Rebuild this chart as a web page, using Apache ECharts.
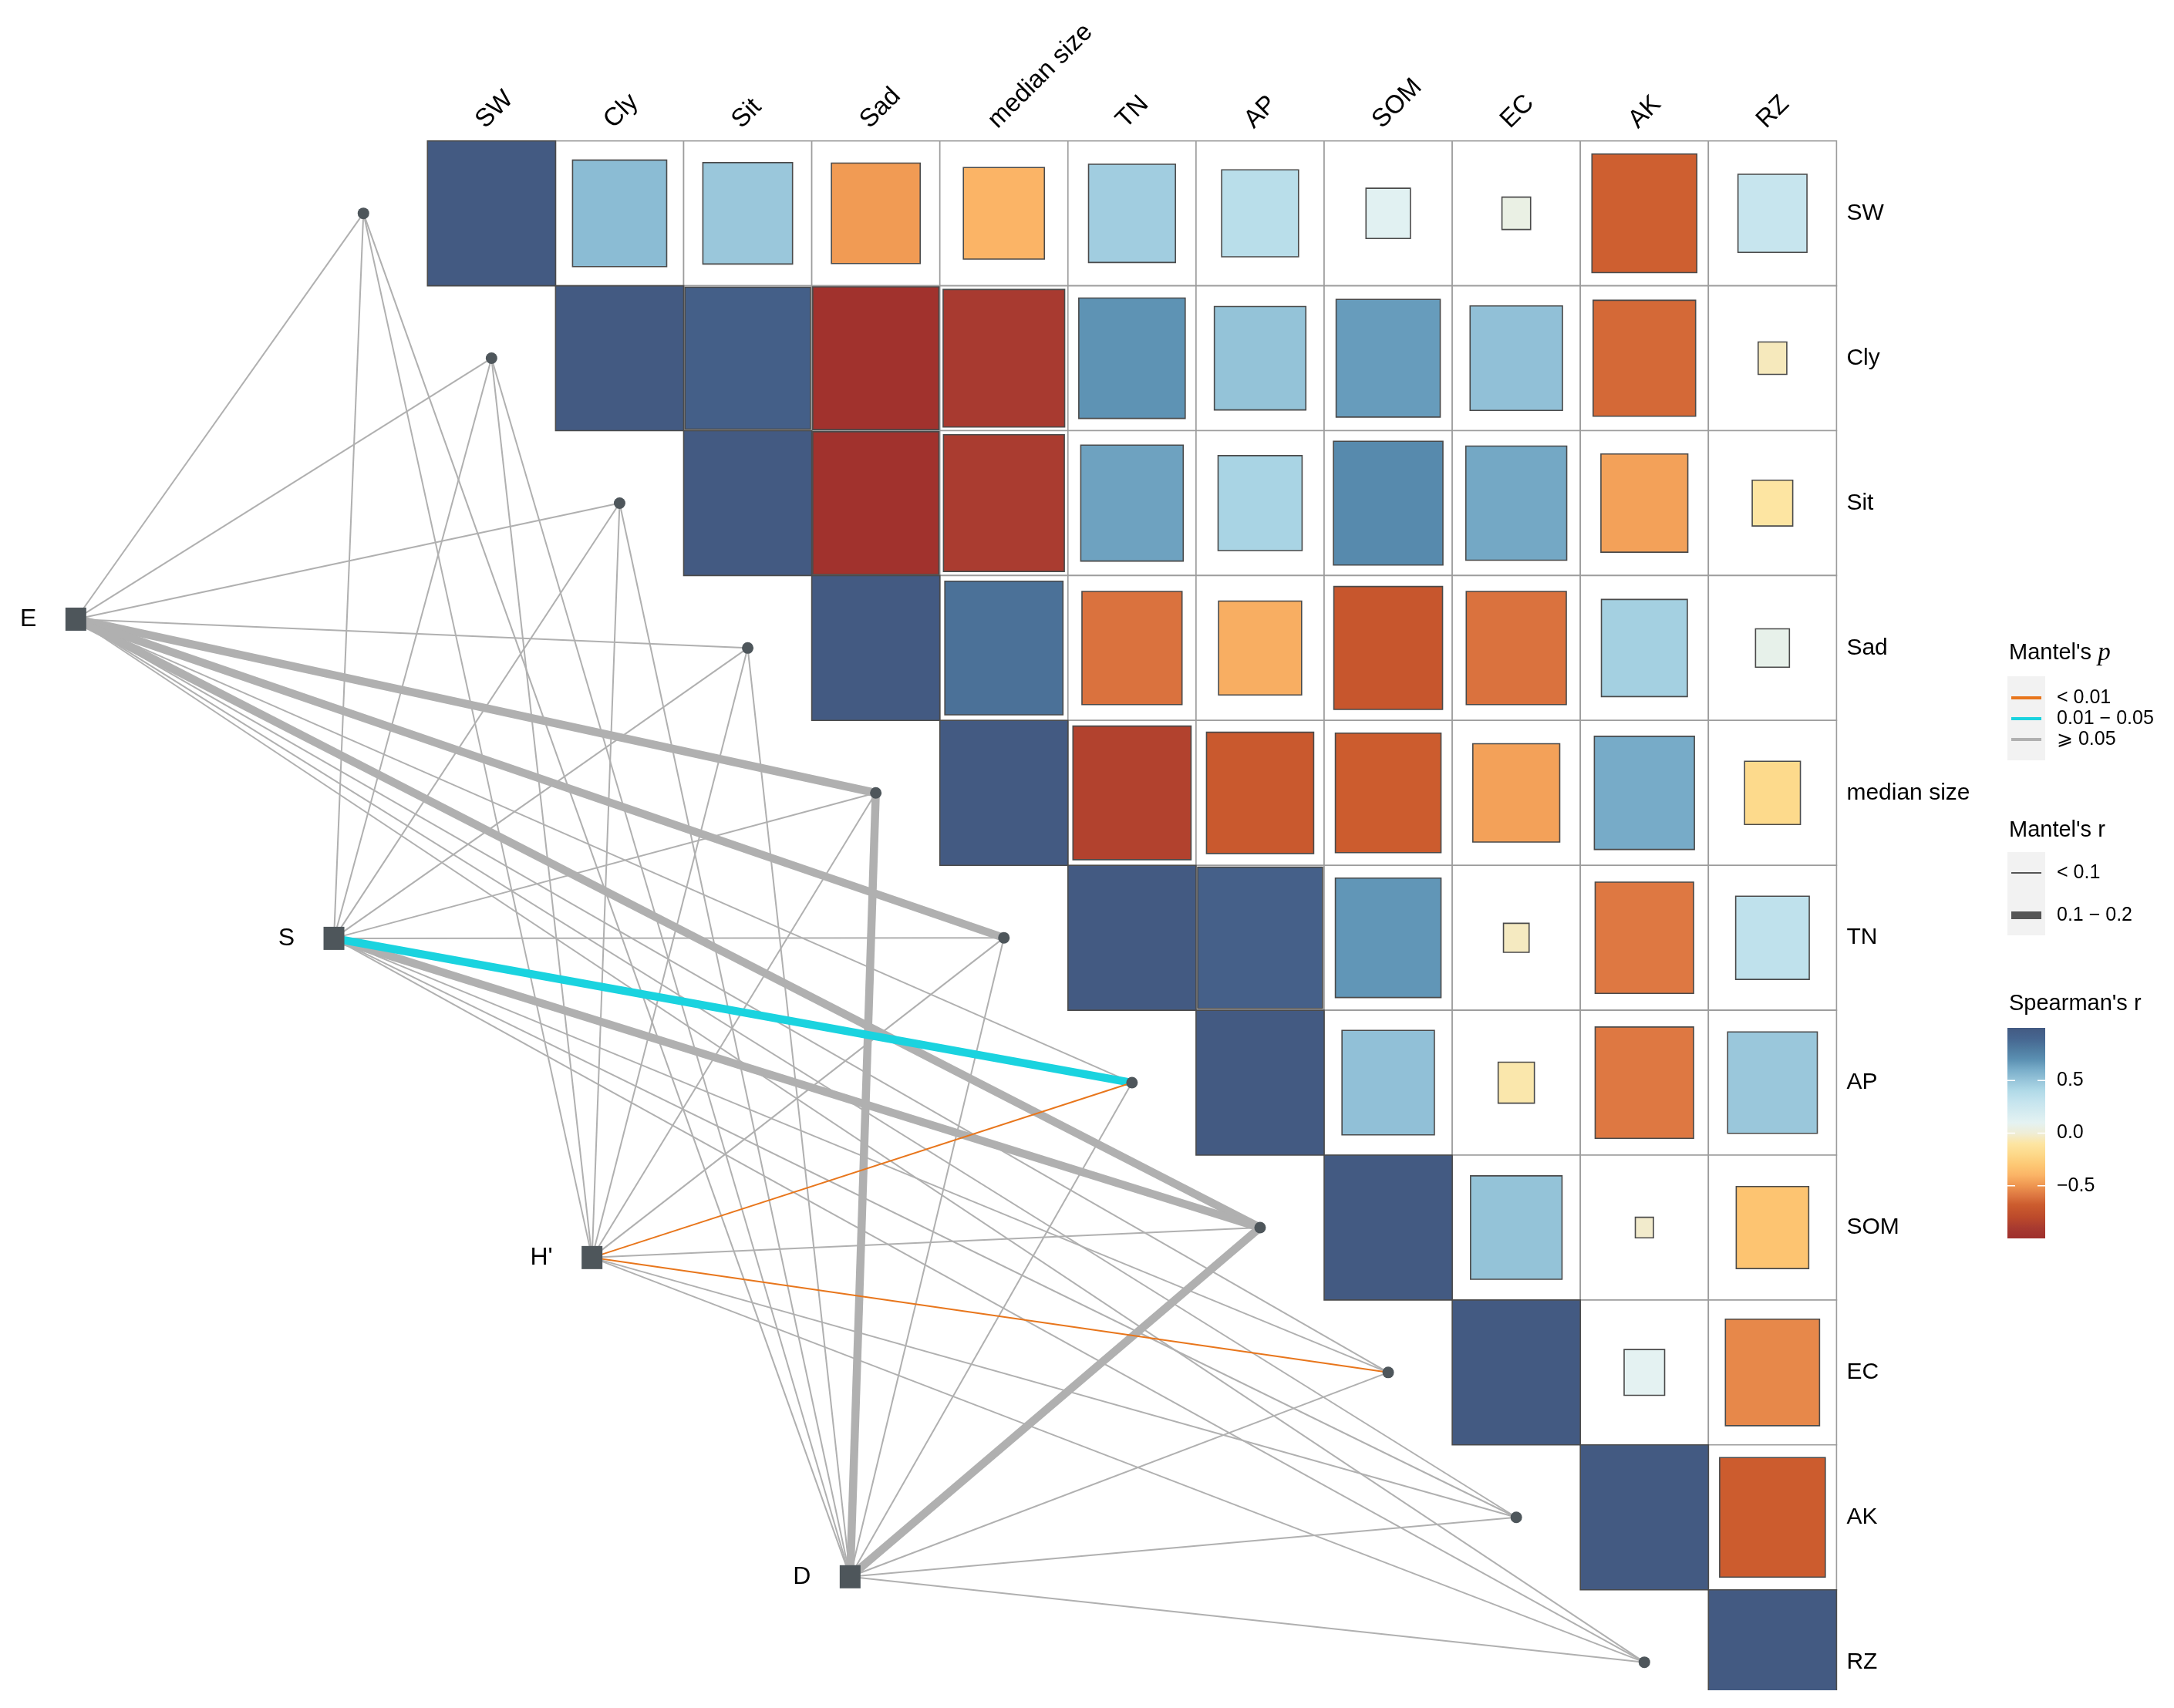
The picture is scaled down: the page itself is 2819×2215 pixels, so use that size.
<!DOCTYPE html>
<html>
<head>
<meta charset="utf-8">
<script src="https://cdn.jsdelivr.net/npm/echarts@6/dist/echarts.min.js"></script>
<style>html,body{margin:0;padding:0;background:#fff}#chart{width:2819px;height:2215px}</style>
</head>
<body>
<div id="chart"></div>
<script>
// ---------------- DATA ----------------
const variables = ['SW', 'Cly', 'Sit', 'Sad', 'median size', 'TN', 'AP', 'SOM', 'EC', 'AK', 'RZ'];

// Spearman's r, upper triangle: each row starts at its diagonal cell
const rSW     = [1, 0.54, 0.49, -0.48, -0.40, 0.46, 0.36, 0.12, 0.05, -0.67, 0.29];
const rCly    = [1, 0.96, -0.97, -0.90, 0.69, 0.51, 0.66, 0.52, -0.64, -0.05];
const rSit    = [1, -0.97, -0.89, 0.64, 0.43, 0.73, 0.62, -0.46, -0.10];
const rSad    = [1, 0.85, -0.61, -0.42, -0.72, -0.61, 0.45, 0.07];
const rMedian = [1, -0.85, -0.70, -0.68, -0.46, 0.61, -0.19];
const rTN     = [1, 0.95, 0.68, -0.04, -0.59, 0.33];
const rAP     = [1, 0.52, -0.08, -0.59, 0.49];
const rSOM    = [1, 0.51, -0.02, -0.32];
const rEC     = [1, 0.10, -0.54];
const rAK     = [1, -0.68];
const rRZ     = [1];
const corrRows = [rSW, rCly, rSit, rSad, rMedian, rTN, rAP, rSOM, rEC, rAK, rRZ];

// Mantel tests: one source per array, one value per environmental variable
const mantelSources = ['E', 'S', "H'", 'D'];
const mantelR_E = [0.04, 0.05, 0.06, 0.07, 0.16, 0.14, 0.06, 0.13, 0.05, 0.03, 0.02];
const mantelP_E = [0.62, 0.55, 0.41, 0.33, 0.08, 0.11, 0.47, 0.09, 0.52, 0.71, 0.80];
const mantelR_S = [0.03, 0.04, 0.05, 0.06, 0.07, 0.08, 0.17, 0.12, 0.05, 0.04, 0.03];
const mantelP_S = [0.74, 0.66, 0.58, 0.44, 0.36, 0.27, 0.03, 0.07, 0.51, 0.63, 0.77];
const mantelR_H = [0.02, 0.03, 0.04, 0.05, 0.06, 0.05, 0.09, 0.06, 0.08, 0.04, 0.03];
const mantelP_H = [0.81, 0.69, 0.57, 0.46, 0.39, 0.42, 0.008, 0.35, 0.006, 0.59, 0.72];
const mantelR_D = [0.03, 0.04, 0.05, 0.06, 0.15, 0.05, 0.06, 0.14, 0.04, 0.05, 0.03];
const mantelP_D = [0.77, 0.61, 0.53, 0.45, 0.10, 0.49, 0.43, 0.12, 0.58, 0.54, 0.75];
const mantelR = [mantelR_E, mantelR_S, mantelR_H, mantelR_D];
const mantelP = [mantelP_E, mantelP_S, mantelP_H, mantelP_D];

const spearmanTicks = [0.5, 0.0, -0.5];
const pClassLabels = ['< 0.01', '0.01 \u2212 0.05', '\u2A7E 0.05'];
const rClassLabels = ['< 0.1', '0.1 \u2212 0.2'];

// ---------------- STYLE / SCALES ----------------
const FONT = 'Liberation Sans, Arial, sans-serif';
const colorStops = [
  [-1.0, '#9E2F2C'], [-0.9, '#A83A30'], [-0.8, '#BC4A2B'], [-0.68, '#CC5C2E'],
  [-0.6, '#DC7540'], [-0.5, '#EE9550'], [-0.4, '#FBB466'], [-0.3, '#FDC874'],
  [-0.2, '#FDD98A'], [-0.1, '#FDE5A2'], [0.0, '#EFEDD6'], [0.1, '#E4F2F2'],
  [0.3, '#C5E4EE'], [0.4, '#B1DAE8'], [0.5, '#97C5DA'], [0.6, '#7AAECA'],
  [0.7, '#5B90B2'], [0.8, '#4F7BA0'], [0.9, '#466690'], [1.0, '#435A82']
];
function hexRgb(h) { return [parseInt(h.slice(1,3),16), parseInt(h.slice(3,5),16), parseInt(h.slice(5,7),16)]; }
function corrColor(v) {
  v = Math.max(-1, Math.min(1, v));
  for (let k = 0; k < colorStops.length - 1; k++) {
    const [a, ca] = colorStops[k], [b, cb] = colorStops[k + 1];
    if (v >= a && v <= b) {
      const t = (v - a) / (b - a), A = hexRgb(ca), B = hexRgb(cb);
      return 'rgb(' + A.map((x, i) => Math.round(x + (B[i] - x) * t)).join(',') + ')';
    }
  }
  return colorStops[colorStops.length - 1][1];
}
const P_COLORS = ['#E8761C', '#1AD3DF', '#B0B0B0'];
function pClass(p) { return p < 0.01 ? 0 : (p < 0.05 ? 1 : 2); }
function rClass(r) { return r < 0.1 ? 0 : 1; }
const R_WIDTHS = [2, 10.5];

// ---------------- LAYOUT ----------------
const W = 2819, H = 2215;
const N = variables.length;
const GRID_LEFT = 554.3, GRID_TOP = 182.7, CELL_W = 166.1, CELL_H = 187.9;
const Y_MAX = (H - GRID_TOP) / CELL_H;      // plot area runs to the bottom edge
const VISIBLE_ROWS = (2192 - GRID_TOP) / CELL_H; // panel is cropped at the bottom
const SRC_X0 = -2.745, SRC_DX = 2.0148;     // sources laid out on a line (data units)
const SRC_Y0 = 3.301,  SRC_DY = 2.203;
function srcPos(k) { return [SRC_X0 + k * SRC_DX, SRC_Y0 + k * SRC_DY]; }
function tgtPos(i) { return [i - 0.5, i + 0.5]; }

// ---------------- SERIES DATA ----------------
const cellData = [];
corrRows.forEach((row, i) => row.forEach((r, k) => cellData.push([i + k, i, r])));

const linkData = [];
mantelR.forEach((arr, s) => arr.forEach((r, t) => linkData.push([s, t, r, mantelP[s][t]])));
linkData.sort((a, b) => (pClass(b[3]) - pClass(a[3])) || (rClass(a[2]) - rClass(b[2])));

const srcData = mantelSources.map((name, k) => [k]);
const varData = variables.map((v, i) => [i]);

function clipYpx(api) { return api.coord([0, VISIBLE_ROWS])[1]; }

function renderCellBg(params, api) {
  const col = api.value(0), row = api.value(1);
  if (col === row) return null;
  const a = api.coord([col, row]), b = api.coord([col + 1, row + 1]);
  const y1 = Math.min(b[1], clipYpx(api));
  return { type: 'rect', shape: { x: a[0], y: a[1], width: b[0] - a[0], height: y1 - a[1] },
           style: { fill: '#ffffff', stroke: '#9c9c9c', lineWidth: 1.6 } };
}
function renderSquare(params, api) {
  const col = api.value(0), row = api.value(1), r = api.value(2);
  const s = Math.sqrt(Math.abs(r));
  const a = api.coord([col + 0.5 - s / 2, row + 0.5 - s / 2]);
  const b = api.coord([col + 0.5 + s / 2, row + 0.5 + s / 2]);
  const cy = clipYpx(api);
  const fill = corrColor(r);
  if (b[1] <= cy) {
    return { type: 'rect', shape: { x: a[0], y: a[1], width: b[0] - a[0], height: b[1] - a[1] },
             style: { fill: fill, stroke: '#4a4a4a', lineWidth: 1.6 } };
  }
  return { type: 'group', children: [
    { type: 'rect', shape: { x: a[0], y: a[1], width: b[0] - a[0], height: cy - a[1] }, style: { fill: fill } },
    { type: 'polyline', shape: { points: [[a[0], cy], [a[0], a[1]], [b[0], a[1]], [b[0], cy]] },
      style: { stroke: '#4a4a4a', lineWidth: 1.6, fill: null } }
  ] };
}
function renderLink(params, api) {
  const s = api.value(0), t = api.value(1), r = api.value(2), p = api.value(3);
  const a = api.coord(srcPos(s)), b = api.coord(tgtPos(t));
  return { type: 'line', shape: { x1: a[0], y1: a[1], x2: b[0], y2: b[1] },
           style: { stroke: P_COLORS[pClass(p)], lineWidth: R_WIDTHS[rClass(r)], lineCap: 'butt' } };
}
function renderSource(params, api) {
  const k = api.value(0);
  const c = api.coord(srcPos(k));
  return { type: 'group', children: [
    { type: 'rect', shape: { x: c[0] - 13.5, y: c[1] - 15, width: 27, height: 30 },
      style: { fill: '#4E565B' } },
    { type: 'text', style: { text: mantelSources[k], x: c[0] - 51, y: c[1], fill: '#000',
      font: '32px ' + FONT, textAlign: 'right', verticalAlign: 'middle' } }
  ] };
}
function renderTarget(params, api) {
  const i = api.value(0);
  const c = api.coord(tgtPos(i));
  return { type: 'circle', shape: { cx: c[0], cy: c[1], r: 7.5 }, style: { fill: '#4E565B' } };
}
function renderVarLabels(params, api) {
  const i = api.value(0);
  const top = api.coord([i + 0.5, 0]);
  const right = api.coord([N, i + 0.5]);
  return { type: 'group', children: [
    { type: 'text', x: top[0] - 3, y: top[1] - 10, rotation: Math.PI / 4,
      style: { text: variables[i], x: 0, y: 0, fill: '#000', font: '33px ' + FONT,
               textAlign: 'left', verticalAlign: 'bottom' } },
    { type: 'text', style: { text: variables[i], x: right[0] + 13, y: right[1], fill: '#000',
      font: '30px ' + FONT, textAlign: 'left', verticalAlign: 'middle' } }
  ] };
}

// ---------------- LEGEND (graphic) ----------------
const LG_X = 2603, LG_W = 49, LG_LABEL_X = 2667;
const graphics = [];
function title(y, text, rich) {
  graphics.push({ type: 'text', x: 2605, y: y, style: { text: text, font: '29px ' + FONT, fill: '#000',
    verticalAlign: 'middle', textAlign: 'left', rich: rich || {} } });
}
function label(y, text) {
  graphics.push({ type: 'text', x: LG_LABEL_X, y: y, style: { text: text, font: '25px ' + FONT, fill: '#000',
    verticalAlign: 'middle', textAlign: 'left' } });
}
title(847, "Mantel's {i|p}", { i: { font: 'italic 33px Liberation Serif, serif', fill: '#000' } });
graphics.push({ type: 'rect', shape: { x: LG_X, y: 877, width: LG_W, height: 109 }, style: { fill: '#F2F2F2' } });
pClassLabels.forEach((t, k) => {
  const y = 905 + k * 27;
  graphics.push({ type: 'line', shape: { x1: 2608, y1: y, x2: 2647, y2: y }, style: { stroke: P_COLORS[k], lineWidth: 4 } });
  label(y, t);
});
title(1077, "Mantel's r");
graphics.push({ type: 'rect', shape: { x: LG_X, y: 1105, width: LG_W, height: 108 }, style: { fill: '#F2F2F2' } });
rClassLabels.forEach((t, k) => {
  const y = 1132 + k * 55;
  graphics.push({ type: 'line', shape: { x1: 2608, y1: y, x2: 2647, y2: y },
    style: { stroke: '#555555', lineWidth: k === 0 ? 1.8 : 10 } });
  label(y, t);
});
title(1302, "Spearman's r");
const BAR_TOP = 1333, BAR_H = 273;
function barY(v) { return BAR_TOP + (1 - v) / 2 * BAR_H; }
graphics.push({ type: 'rect', shape: { x: LG_X, y: BAR_TOP, width: LG_W, height: BAR_H },
  style: { fill: new echarts.graphic.LinearGradient(0, 0, 0, 1,
    colorStops.slice().reverse().map(([v, c]) => ({ offset: (1 - v) / 2, color: c }))) } });
spearmanTicks.forEach(v => {
  const y = barY(v);
  graphics.push({ type: 'line', shape: { x1: LG_X, y1: y, x2: LG_X + 10, y2: y }, style: { stroke: '#ffffff', lineWidth: 1.5 } });
  graphics.push({ type: 'line', shape: { x1: LG_X + LG_W - 10, y1: y, x2: LG_X + LG_W, y2: y }, style: { stroke: '#ffffff', lineWidth: 1.5 } });
  label(y, v.toFixed(1).replace('-', '\u2212'));
});

// ---------------- CHART ----------------
const chart = echarts.init(document.getElementById('chart'), null, { renderer: 'canvas' });
chart.setOption({
  backgroundColor: '#ffffff',
  animation: false,
  grid: { left: GRID_LEFT, top: GRID_TOP, width: CELL_W * N, height: H - GRID_TOP, containLabel: false },
  xAxis: { type: 'value', min: 0, max: N, show: false },
  yAxis: { type: 'value', min: 0, max: Y_MAX, inverse: true, show: false },
  series: [
    { type: 'custom', data: cellData, renderItem: renderCellBg, clip: false, z: 1, silent: true },
    { type: 'custom', data: cellData, renderItem: renderSquare, clip: false, z: 2, silent: true },
    { type: 'custom', data: linkData, renderItem: renderLink, clip: false, z: 3, silent: true },
    { type: 'custom', data: varData, renderItem: renderTarget, clip: false, z: 4, silent: true },
    { type: 'custom', data: srcData, renderItem: renderSource, clip: false, z: 4, silent: true },
    { type: 'custom', data: varData, renderItem: renderVarLabels, clip: false, z: 5, silent: true }
  ],
  graphic: graphics
});
</script>
</body>
</html>
